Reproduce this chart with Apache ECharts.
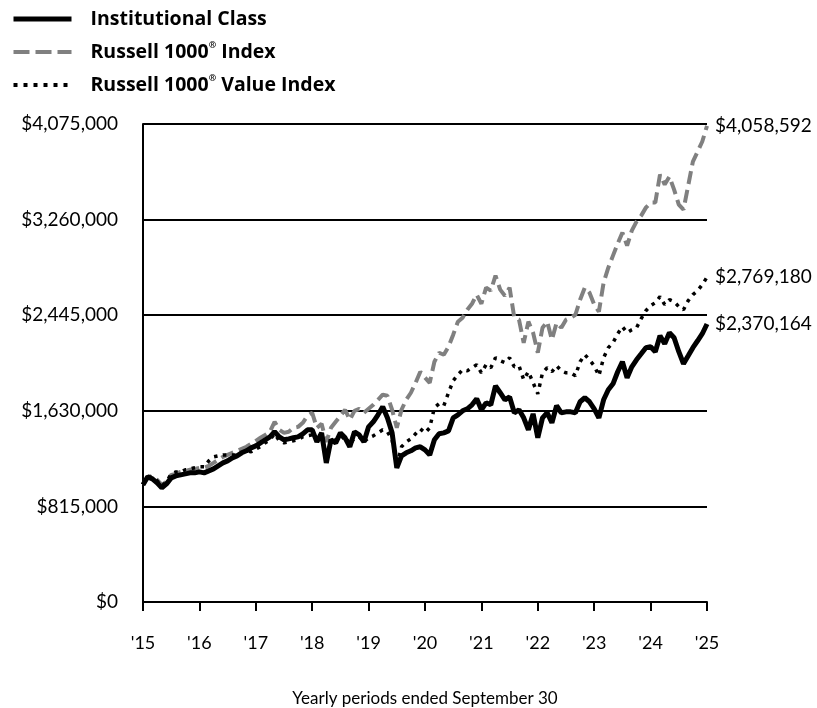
<!DOCTYPE html>
<html>
<head>
<meta charset="utf-8">
<script src="https://cdn.jsdelivr.net/npm/echarts@6/dist/echarts.min.js"></script>
<style>
  html, body { margin: 0; padding: 0; background: #fff; }
  #chart { width: 817px; height: 708px; }
</style>
</head>
<body>
<div id="chart"></div>
<script>
// monthly values, Sep 2015 .. Sep 2025 (growth of $1,000,000)
var yearLabels = ["'15", "'16", "'17", "'18", "'19", "'20", "'21", "'22", "'23", "'24", "'25"]

var institutional = [
  1000000, 1067000, 1050000, 1016000, 973000, 1007000, 1058000, 1075000, 1084000, 1092000, 1101000, 1101000,
  1109000, 1101000, 1118000, 1135000, 1161000, 1186000, 1203000, 1229000, 1246000, 1272000, 1289000, 1314000,
  1331000, 1357000, 1383000, 1408000, 1451000, 1408000, 1383000, 1391000, 1400000, 1408000, 1434000, 1468000,
  1468000, 1365000, 1442000, 1186000, 1383000, 1357000, 1442000, 1400000, 1323000, 1451000, 1425000, 1365000,
  1493000, 1536000, 1596000, 1664000, 1570000, 1442000, 1144000, 1246000, 1272000, 1289000, 1314000, 1323000,
  1297000, 1254000, 1383000, 1434000, 1442000, 1459000, 1570000, 1596000, 1630000, 1647000, 1681000, 1732000,
  1639000, 1698000, 1681000, 1843000, 1784000, 1724000, 1749000, 1613000, 1639000, 1570000, 1468000, 1604000,
  1400000, 1570000, 1613000, 1528000, 1673000, 1613000, 1621000, 1621000, 1613000, 1707000, 1741000, 1707000,
  1647000, 1570000, 1724000, 1809000, 1860000, 1963000, 2048000, 1912000, 2005000, 2065000, 2116000, 2168000,
  2176000, 2134000, 2270000, 2202000, 2296000, 2253000, 2134000, 2031000, 2099000, 2168000, 2227000, 2287000,
  2370164
]

var russell1000 = [
  1000000, 1067000, 1075000, 1041000, 998000, 1024000, 1084000, 1092000, 1109000, 1118000, 1127000, 1135000,
  1144000, 1144000, 1161000, 1186000, 1212000, 1237000, 1254000, 1272000, 1289000, 1306000, 1323000, 1348000,
  1374000, 1400000, 1425000, 1451000, 1536000, 1468000, 1442000, 1451000, 1485000, 1493000, 1528000, 1587000,
  1613000, 1485000, 1519000, 1365000, 1485000, 1536000, 1587000, 1639000, 1553000, 1630000, 1647000, 1613000,
  1647000, 1681000, 1724000, 1767000, 1758000, 1639000, 1485000, 1639000, 1724000, 1784000, 1869000, 1963000,
  1912000, 1869000, 2048000, 2125000, 2108000, 2176000, 2279000, 2390000, 2424000, 2492000, 2543000, 2620000,
  2543000, 2680000, 2654000, 2782000, 2663000, 2611000, 2680000, 2424000, 2407000, 2210000, 2390000, 2296000,
  2125000, 2338000, 2390000, 2236000, 2381000, 2338000, 2407000, 2424000, 2449000, 2577000, 2680000, 2637000,
  2535000, 2475000, 2722000, 2850000, 2953000, 3055000, 3149000, 3038000, 3166000, 3243000, 3294000, 3362000,
  3405000, 3405000, 3644000, 3559000, 3627000, 3516000, 3388000, 3345000, 3550000, 3755000, 3840000, 3926000,
  4058592
]

var russell1000Value = [
  1000000, 1058000, 1067000, 1033000, 990000, 1024000, 1092000, 1109000, 1109000, 1127000, 1135000, 1144000,
  1152000, 1152000, 1203000, 1237000, 1246000, 1254000, 1254000, 1254000, 1254000, 1272000, 1289000, 1280000,
  1306000, 1323000, 1357000, 1383000, 1434000, 1374000, 1357000, 1365000, 1374000, 1383000, 1408000, 1417000,
  1425000, 1374000, 1400000, 1237000, 1357000, 1383000, 1383000, 1417000, 1340000, 1400000, 1408000, 1365000,
  1400000, 1417000, 1442000, 1468000, 1451000, 1383000, 1161000, 1323000, 1365000, 1391000, 1434000, 1476000,
  1442000, 1485000, 1656000, 1690000, 1673000, 1784000, 1886000, 1937000, 1980000, 1971000, 1997000, 2023000,
  1954000, 2023000, 1997000, 2082000, 2057000, 2040000, 2082000, 2005000, 2014000, 1895000, 1963000, 1869000,
  1775000, 1954000, 1997000, 1963000, 2014000, 1971000, 1954000, 1954000, 1929000, 2048000, 2108000, 2065000,
  2014000, 1929000, 2082000, 2168000, 2210000, 2287000, 2347000, 2296000, 2321000, 2338000, 2415000, 2483000,
  2526000, 2552000, 2603000, 2535000, 2577000, 2560000, 2518000, 2492000, 2569000, 2620000, 2654000, 2705000,
  2769180
]

var months = []
for (var i = 0; i < institutional.length; i++) {
  var m = 8 + i // Sep 2015 = month index 8
  months.push(2015 + Math.floor(m / 12) + '-' + ('0' + ((m % 12) + 1)).slice(-2))
}

var FONT = 'Lato'
var myChart = echarts.init(document.getElementById('chart'))

function money(v) {
  return '$' + Math.round(v).toString().replace(/\B(?=(\d{3})+(?!\d))/g, ',')
}

// end label of each line
function endLabel() {
  return {
    show: true,
    distance: 8,
    fontFamily: FONT,
    fontSize: 19,
    color: '#000',
    formatter: function (p) { return money(p.value) }
  }
}

var option = {
  animation: false,
  textStyle: { fontFamily: FONT, color: '#000' },
  legend: {
    orient: 'vertical',
    left: 6,
    top: 4,
    itemWidth: 58,
    itemHeight: 14,
    itemGap: 12,
    itemStyle: { opacity: 0 },
    textStyle: {
      fontFamily: 'Open Sans',
      fontSize: 19.5,
      fontWeight: 'bold',
      color: '#000',
      padding: [0, 0, 0, 14],
      rich: {
        sup: { fontFamily: 'Open Sans', fontSize: 9, fontWeight: 'bold', verticalAlign: 'top', padding: [0, 0, 13, 0] }
      }
    },
    formatter: function (name) {
      return name.replace('®', '{sup|®}')
    },
    data: [
      { name: 'Institutional Class', lineStyle: { width: 5 } },
      { name: 'Russell 1000® Index', lineStyle: { width: 4, type: [16, 6] } },
      { name: 'Russell 1000® Value Index', lineStyle: { width: 4, type: [4, 6] } }
    ]
  },
  grid: { left: 143, width: 564, top: 124, height: 478, containLabel: false, outerBoundsMode: 'none' },
  xAxis: {
    type: 'category',
    data: months,
    boundaryGap: false,
    name: 'Yearly periods ended September 30',
    nameLocation: 'middle',
    nameGap: 88,
    nameTextStyle: { fontFamily: FONT, fontSize: 17, color: '#000' },
    axisLine: { lineStyle: { color: '#000', width: 2 } },
    axisTick: { interval: 11, length: 9, lineStyle: { color: '#000', width: 2 } },
    axisLabel: {
      interval: 11,
      margin: 32,
      fontFamily: FONT,
      fontSize: 18,
      color: '#000',
      formatter: function (v, idx) {
        return idx % 12 === 0 ? yearLabels[idx / 12] : ''
      }
    },
    splitLine: { show: false }
  },
  yAxis: {
    type: 'value',
    min: 0,
    max: 4075000,
    interval: 815000,
    axisLine: { show: true, lineStyle: { color: '#000', width: 2 } },
    axisTick: { show: false },
    axisLabel: {
      margin: 25,
      fontFamily: FONT,
      fontSize: 19,
      color: '#000',
      formatter: money
    },
    splitLine: { show: true, lineStyle: { color: '#000', width: 2 } }
  },
  series: [
    {
      name: 'Russell 1000® Index',
      type: 'line',
      data: russell1000,
      symbol: 'none',
      lineStyle: { color: '#808080', width: 4, type: [13, 6] },
      itemStyle: { color: '#808080' },
      endLabel: endLabel()
    },
    {
      name: 'Russell 1000® Value Index',
      type: 'line',
      data: russell1000Value,
      symbol: 'none',
      lineStyle: { color: '#000', width: 3.5, type: [3.5, 5.5] },
      itemStyle: { color: '#000' },
      endLabel: endLabel()
    },
    {
      name: 'Institutional Class',
      type: 'line',
      data: institutional,
      symbol: 'none',
      lineStyle: { color: '#000', width: 5 },
      itemStyle: { color: '#000' },
      endLabel: endLabel()
    }
  ]
}

myChart.setOption(option)
window.onresize = function () {
  myChart.resize()
}
</script>
</body>
</html>
